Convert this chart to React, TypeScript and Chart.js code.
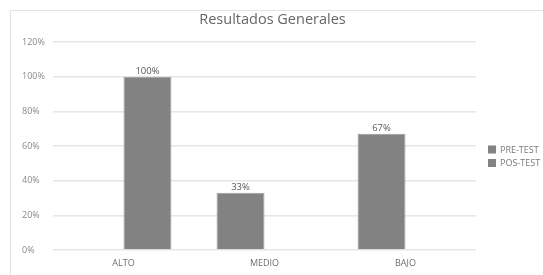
import React, { useEffect, useRef } from "react";
import { Chart, registerables } from "chart.js";

Chart.register(...registerables);

const categories = ["ALTO", "MEDIO", "BAJO"];
const seriesNames = ["PRE-TEST", "POS-TEST"];
const preTest: (number | null)[] = [null, 33, 67];
const posTest: (number | null)[] = [100, null, null];
const yTicks = [0, 20, 40, 60, 80, 100, 120];
const chartTitle = "Resultados Generales";

const BAR = "#828282";
const BAR_BORDER = "#9a9a9a";
const FONT = "'Open Sans', 'Liberation Sans', sans-serif";

const frame = {
  id: "frame",
  beforeDraw(chart: any) {
    const ctx = chart.ctx;
    ctx.save();
    ctx.fillStyle = "#ffffff";
    ctx.fillRect(0, 0, chart.width, chart.height);
    ctx.strokeStyle = "#e2e2e2";
    ctx.lineWidth = 1;
    ctx.beginPath();
    ctx.moveTo(10.5, chart.height);
    ctx.lineTo(10.5, 10.5);
    ctx.lineTo(chart.width, 10.5);
    ctx.stroke();
    // chart title, centred on the whole chart box
    ctx.font = `14.5px ${FONT}`;
    ctx.fillStyle = "#666666";
    ctx.textAlign = "center";
    ctx.textBaseline = "middle";
    ctx.fillText(chartTitle, chart.width / 2 + 1, 20);
    ctx.restore();
  },
};

const valueLabels = {
  id: "valueLabels",
  afterDatasetsDraw(chart: any) {
    const ctx = chart.ctx;
    ctx.save();
    ctx.font = `9.5px ${FONT}`;
    ctx.fillStyle = "#595959";
    ctx.textAlign = "center";
    ctx.textBaseline = "bottom";
    chart.data.datasets.forEach((ds: any, di: number) => {
      const meta = chart.getDatasetMeta(di);
      meta.data.forEach((el: any, i: number) => {
        const v = ds.data[i];
        if (v === null || v === undefined) return;
        ctx.fillText(v + "%", el.x, el.y - 0.5);
      });
    });
    ctx.restore();
  },
};

const sideLegend = {
  id: "sideLegend",
  afterDraw(chart: any) {
    const ctx = chart.ctx;
    ctx.save();
    ctx.font = `9px ${FONT}`;
    ctx.textBaseline = "middle";
    ctx.textAlign = "left";
    const x = chart.chartArea.right + 12;
    chart.data.datasets.forEach((ds: any, i: number) => {
      const y = 149.5 + i * 13.5;
      ctx.fillStyle = ds.backgroundColor;
      ctx.fillRect(x, y - 4, 8, 8);
      ctx.fillStyle = "#7a7a7a";
      ctx.fillText(ds.label, x + 12, y + 0.5);
    });
    ctx.restore();
  },
};

export default function App() {
  const ref = useRef<HTMLCanvasElement>(null);

  useEffect(() => {
    document.body.style.margin = "0";
    const chart = new Chart(ref.current!, {
      type: "bar",
      data: {
        labels: categories,
        datasets: [
          {
            label: seriesNames[0],
            data: preTest,
            backgroundColor: BAR,
            borderColor: BAR_BORDER,
            borderWidth: 1,
            categoryPercentage: 0.68,
            barPercentage: 1,
          },
          {
            label: seriesNames[1],
            data: posTest,
            backgroundColor: BAR,
            borderColor: BAR_BORDER,
            borderWidth: 1,
            categoryPercentage: 0.68,
            barPercentage: 1,
          },
        ],
      },
      options: {
        animation: false,
        responsive: false,
        layout: { padding: { left: 22, right: 67, top: 42, bottom: 6 } },
        plugins: {
          legend: { display: false },
          tooltip: { enabled: false },
          title: { display: false },
        },
        scales: {
          x: {
            grid: { display: false, drawTicks: false },
            border: { display: false },
            afterFit(axis: any) {
              axis.height = 19;
            },
            ticks: {
              color: "#6f6f6f",
              font: { family: FONT, size: 9 },
              padding: 8,
            },
          },
          y: {
            min: 0,
            max: 120,
            afterBuildTicks(axis: any) {
              axis.ticks = yTicks.map((v) => ({ value: v }));
            },
            afterFit(axis: any) {
              axis.width = 31;
            },
            grid: { color: "#e6e6e6", lineWidth: 1.5, drawTicks: false },
            border: { display: false },
            ticks: {
              crossAlign: "far",
              color: "#8a8a8a",
              font: { family: FONT, size: 9 },
              callback: (v: any) => v + "%",
            },
          },
        },
      },
      plugins: [frame, valueLabels, sideLegend],
    } as any);
    return () => chart.destroy();
  }, []);

  return <canvas ref={ref} width={543} height={275} style={{ display: "block" }} />;
}
